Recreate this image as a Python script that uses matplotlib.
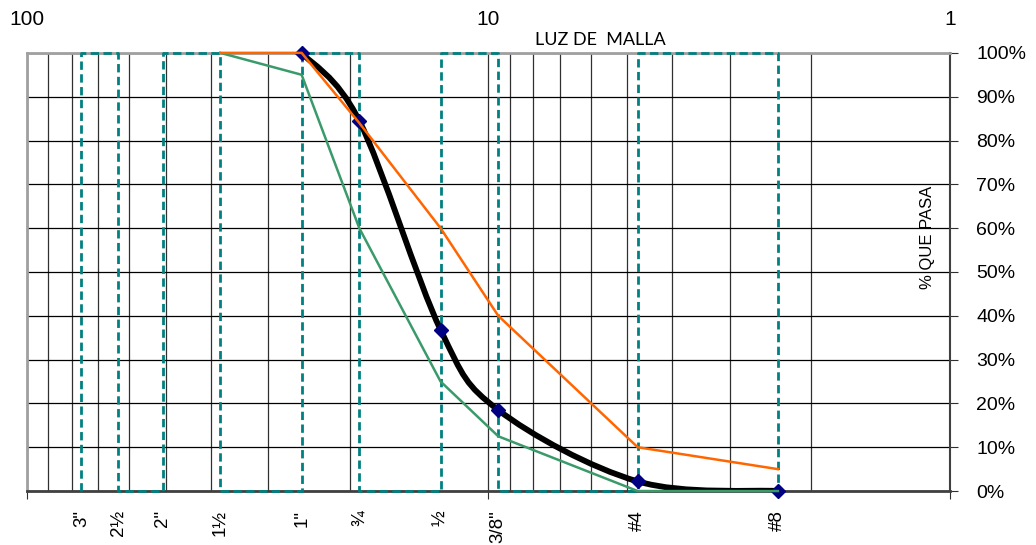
import numpy as np
import matplotlib
matplotlib.use("Agg")
import matplotlib.pyplot as plt
from matplotlib.path import Path
from matplotlib.patches import PathPatch
from matplotlib.ticker import NullFormatter, FixedLocator


# sieve openings (mm) and their names
SIEVE_MM = [76.2, 63.5, 50.8, 38.1, 25.4, 19.05, 12.7, 9.525, 4.75, 2.36]
SIEVE_LABELS = ['3"', "2½", '2"', "1½", '1"', "¾", "½", '3/8"', "#4", "#8"]

# dashed band outline: each sieve has a vertical from / to these levels
BAND_Y = [0, 100, 100, 0] * 5

# measured grading (smoothed black curve)
SAMPLE_MM = [25.4, 19.05, 12.7, 9.525, 4.75, 2.36]
SAMPLE_PCT = [100, 84.5, 36.8, 18.5, 2.2, 0]

# specification limits
UPPER_MM = [38.1, 25.4, 19.05, 12.7, 9.525, 4.75, 2.36]
UPPER_PCT = [100, 100, 84, 60, 40, 10, 5]
LOWER_MM = [38.1, 25.4, 19.05, 12.7, 9.525, 4.75, 2.36]
LOWER_PCT = [100, 95, 60, 25, 12.5, 0, 0]

Y_TICKS = [0, 10, 20, 30, 40, 50, 60, 70, 80, 90, 100]
X_MAJOR = [100, 10, 1]


def smooth_path(xs, ys):
    # excel-style smoothed line: cubic bezier through the points,
    # control points from neighbours, built in log-x space
    u = np.log10(xs)
    y = np.asarray(ys, dtype=float)
    n = len(u)
    verts = [(xs[0], y[0])]
    codes = [Path.MOVETO]
    for i in range(n - 1):
        p = max(i - 1, 0)
        q = min(i + 2, n - 1)
        c1 = (u[i] + (u[i + 1] - u[p]) / 6, y[i] + (y[i + 1] - y[p]) / 6)
        c2 = (u[i + 1] - (u[q] - u[i]) / 6, y[i + 1] - (y[q] - y[i]) / 6)
        verts += [(10 ** c1[0], c1[1]), (10 ** c2[0], c2[1]), (xs[i + 1], y[i + 1])]
        codes += [Path.CURVE4] * 3
    return Path(verts, codes)


def main():
    plt.rcParams["font.family"] = ["Liberation Sans", "DejaVu Sans"]

    fig = plt.figure(figsize=(10.36, 5.45), dpi=100)
    ax = fig.add_axes([0.026, 0.099, 0.891, 0.804])

    ax.set_xscale("log")
    ax.set_xlim(100, 1)
    ax.set_ylim(0, 100)

    # grid
    ax.xaxis.set_major_locator(FixedLocator(X_MAJOR))
    ax.xaxis.set_minor_locator(FixedLocator(
        [90, 80, 70, 60, 50, 40, 30, 20, 9, 8, 7, 6, 5, 4, 3, 2]))
    ax.xaxis.set_minor_formatter(NullFormatter())
    ax.set_xticklabels(["100", "10", "1"])
    ax.grid(True, axis="x", which="both", color="#303030", lw=0.9, zorder=0)
    ax.set_yticks(Y_TICKS)
    ax.set_yticklabels([f"{v}%" for v in Y_TICKS])
    ax.grid(True, axis="y", which="major", color="black", lw=0.9, zorder=0)
    ax.set_axisbelow(True)

    ax.tick_params(axis="x", which="major", top=False, bottom=True,
                   labeltop=True, labelbottom=False, length=6, pad=11,
                   labelsize=15, direction="out", color="#303030")
    ax.tick_params(axis="x", which="minor", length=0)
    ax.yaxis.tick_right()
    ax.tick_params(axis="y", length=6, pad=13, labelsize=14,
                   direction="out", color="#303030")

    for side in ["left", "top"]:
        ax.spines[side].set_color("#a0a0a0")
        ax.spines[side].set_linewidth(2)
    ax.spines["bottom"].set_color("#404040")
    ax.spines["bottom"].set_linewidth(2)
    ax.spines["right"].set_color("#404040")
    ax.spines["right"].set_linewidth(1.5)

    # dashed sieve bands
    ax.plot(np.repeat(SIEVE_MM, 2), BAND_Y, color="#008080", lw=2,
            ls=(0, (3, 1.6)), zorder=2.7, clip_on=False)

    # smoothed sample curve
    ax.add_patch(PathPatch(smooth_path(SAMPLE_MM, SAMPLE_PCT), fill=False,
                           edgecolor="black", lw=4.2, zorder=3,
                           capstyle="round", joinstyle="round"))
    ax.plot(SAMPLE_MM, SAMPLE_PCT, ls="none", marker="D", ms=7,
            color="#000080", zorder=4, clip_on=False)

    ax.plot(LOWER_MM, LOWER_PCT, color="#3a9a6a", lw=1.8, zorder=5,
            clip_on=False)
    ax.plot(UPPER_MM, UPPER_PCT, color="#ff6600", lw=1.8, zorder=6,
            clip_on=False)

    # sieve names under the axis
    for mm, lab in zip(SIEVE_MM, SIEVE_LABELS):
        ax.text(mm, -0.043, lab, transform=ax.get_xaxis_transform(),
                rotation=90, ha="center", va="top", fontsize=13.5)

    ax.text(0.621, 1.03, "LUZ DE  MALLA", transform=ax.transAxes,
            ha="center", va="center", fontsize=13,
            family=["Lato", "DejaVu Sans"])
    ax.text(0.976, 0.58, "% QUE PASA", transform=ax.transAxes, rotation=90,
            ha="center", va="center", fontsize=12)

    fig.savefig("out.png", dpi=100)


if __name__ == "__main__":
    main()
